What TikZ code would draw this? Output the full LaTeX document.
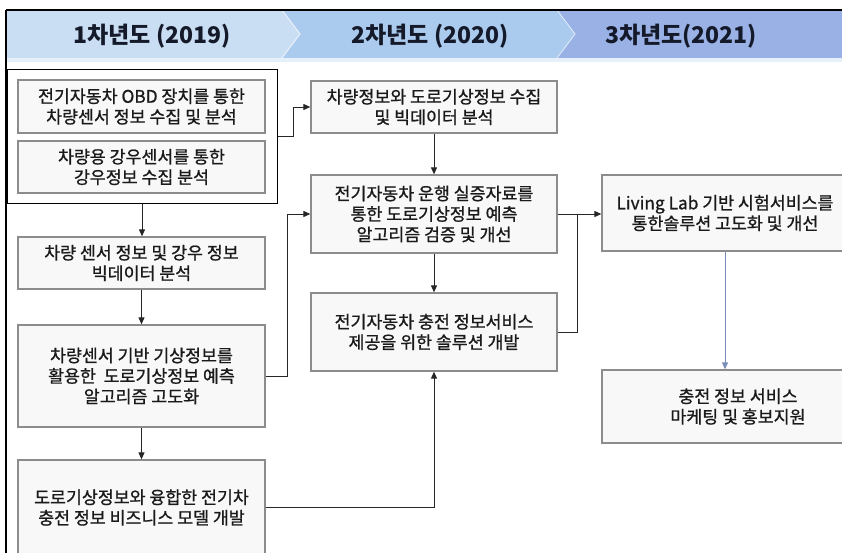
\documentclass[tikz,border=0pt]{standalone}
\usepackage{fontspec}
\newfontfamily\kr[FakeBold=0.9]{Noto Sans CJK KR}
\newfontfamily\krh{Noto Sans CJK KR}
\usetikzlibrary{arrows.meta,calc}
\definecolor{segA}{HTML}{C9DEF3}
\definecolor{segB}{HTML}{AACAEE}
\definecolor{segC}{HTML}{99B1E5}
\definecolor{strip}{HTML}{E6F0FA}
\definecolor{boxline}{HTML}{8C8C8C}
\definecolor{boxfill}{HTML}{F8F8F8}
\definecolor{txt}{HTML}{1A1A1A}
\definecolor{htxt}{HTML}{151A2A}
\definecolor{bluearr}{HTML}{7A8DB8}
\tikzset{
  box/.style={draw=boxline, line width=1.3pt, fill=boxfill, inner sep=0pt, align=center,
    font=\kr\fontsize{17.3}{20.5}\selectfont, text=txt},
  grp/.style={draw=black, line width=1pt, inner sep=0pt},
  hdr/.style={font=\krh\bfseries\fontsize{23}{26}\selectfont, text=htxt, inner sep=0pt},
  arr/.style={draw=black!85, line width=1pt, -{Triangle[length=7pt,width=6pt]}},
  lnk/.style={draw=black!85, line width=1pt},
  barr/.style={draw=bluearr, line width=1pt, -{Triangle[length=7pt,width=6pt]}},
}
\begin{document}
\begin{tikzpicture}[x=1pt,y=-1pt]
\useasboundingbox (0,0) rectangle (842,552);
\begin{scope}
\clip (0,0) rectangle (842,552);
% header band
\fill[segA] (6,10) -- (282,10) -- (300,34) -- (282,58) -- (6,58) -- cycle;
\fill[segB] (282,10) -- (557,10) -- (575,34) -- (557,58) -- (282,58) -- (300,34) -- cycle;
\fill[segC] (557,10) -- (845,10) -- (845,58) -- (557,58) -- (575,34) -- cycle;
\draw[white!80!segA, line width=0.8pt] (282,10) -- (300,34) -- (282,58);
\draw[white!70!segB, line width=0.8pt] (557,10) -- (575,34) -- (557,58);
\fill[strip] (6,58) rectangle (845,62);
\draw[black, line width=1.2pt] (6,10) -- (845,10);
\draw[black, line width=1.2pt] (6,10) -- (6,560);
\node[hdr] (h1) at (152,36) {1차년도 (2019)};
\node[hdr] (h2) at (430,36) {2차년도 (2020)};
\node[hdr] (h3) at (681,36) {3차년도(2021)};

% column 1
\node[grp, minimum width=270, minimum height=134] (g1) at (142,136) {};
\node[box, minimum width=247, minimum height=53] (a1) at (141.5,106.5) {전기자동차 OBD 장치를 통한\\차량센서 정보 수집 및 분석};
\node[box, minimum width=247, minimum height=52] (a2) at (141.5,167) {차량용 강우센서를 통한\\강우정보 수집 분석};
\node[box, minimum width=247, minimum height=52] (a3) at (141.5,263) {차량 센서 정보 및 강우 정보\\빅데이터 분석};
\node[box, minimum width=247, minimum height=102] (a4) at (141.5,376) {차량센서 기반 기상정보를\\활용한\ \ 도로기상정보 예측\\알고리즘 고도화};
\node[box, minimum width=247, minimum height=95] (a5) at (141.5,507.5) {도로기상정보와 융합한 전기차\\충전 정보 비즈니스 모델 개발};

% column 2
\node[box, minimum width=246, minimum height=52] (b1) at (434,107) {차량정보와 도로기상정보 수집\\및 빅데이터 분석};
\node[box, minimum width=246, minimum height=78] (b2) at (434,214) {전기자동차 운행 실증자료를\\통한 도로기상정보 예측\\알고리즘 검증 및 개선};
\node[box, minimum width=246, minimum height=78] (b3) at (434,332) {전기자동차 충전 정보서비스\\제공을 위한 솔루션 개발};

% column 3
\node[box, minimum width=246, minimum height=76] (c1) at (725,213) {Living Lab 기반 시험서비스를\\통한솔루션 고도화 및 개선};
\node[box, minimum width=272, minimum height=73] (c2) at (738,406.5) {충전 정보 서비스\\마케팅 및 홍보지원};

% connectors
\draw[arr] (g1.south) -- (g1.south |- a3.north);
\draw[arr] (a3.south) -- (a4.north);
\draw[arr] (a4.south) -- (a5.north);
\draw[arr] (g1.east) -- ++(16,0) |- (b1.west);
\draw[arr] (a4.east) -- ++(22,0) |- (b2.west);
\draw[arr] (a5.east) -| (b3.south);
\draw[arr] (b1.south) -- (b2.north);
\draw[arr] (b2.south) -- (b3.north);
\draw[arr] (b2.east) -- (c1.west |- b2.east);
\coordinate (j) at (577,214);
\draw[lnk] (b3.east) -| (j);
\draw[barr] (c1.south) -- (c1.south |- c2.north);
\end{scope}
\end{tikzpicture}
\end{document}
